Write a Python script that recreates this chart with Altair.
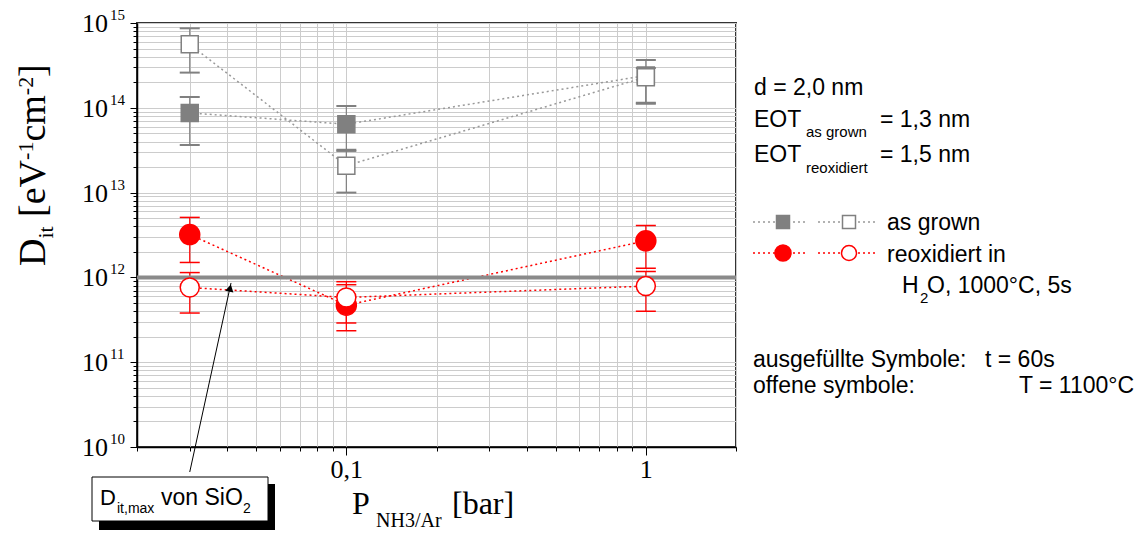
import altair as alt
import pandas as pd

# ---------------- data ----------------
pressure = [0.03, 0.1, 1.0]          # P_NH3/Ar [bar]

asgrown_t60 = [8.7e13, 6.4e13, 2.4e14]
asgrown_t60_lo = [3.64e13, 3.2e13, 1.15e14]
asgrown_t60_hi = [1.34e14, 1.05e14, 3.66e14]

asgrown_T1100 = [5.6e14, 2.08e13, 2.3e14]
asgrown_T1100_lo = [2.6e14, 1.0e13, 1.12e14]
asgrown_T1100_hi = [8.66e14, 3.1e13, 2.95e14]

reox_t60 = [3.2e12, 4.7e11, 2.7e12]
reox_t60_lo = [1.5e12, 2.35e11, 1.28e12]
reox_t60_hi = [5.1e12, 8.2e11, 4.1e12]

reox_T1100 = [7.6e11, 5.8e11, 7.9e11]
reox_T1100_lo = [3.8e11, 2.9e11, 4.0e11]
reox_T1100_hi = [1.14e12, 8.9e11, 1.17e12]

dit_max_sio2 = [1e12]

x_domain = [0.02, 2]
y_domain = [1e10, 1e15]
x_ticks = [0.02, 0.03, 0.04, 0.05, 0.06, 0.07, 0.08, 0.09,
           0.1, 0.2, 0.3, 0.4, 0.5, 0.6, 0.7, 0.8, 0.9, 1, 2]
y_exponents = [10, 11, 12, 13, 14, 15]
y_ticks = [k * 10.0 ** n for n in y_exponents[:-1] for k in range(1, 10)] + [1e15]

# annotation arrow (pressure, Dit) from the box to the SiO2 line
arrow_p = [0.03, 0.0412]
arrow_d = [5.07e9, 8.6e11]
arrowhead_p = [0.0409]
arrowhead_d = [7.5e11]

# ---------------- styling ----------------
SERIF = "Liberation Serif"
SANS = "Liberation Sans"
GRAY = "#808080"
RED = "#ff0000"

xs = alt.Scale(type="log", domain=x_domain, nice=False)
ys = alt.Scale(type="log", domain=y_domain, nice=False)

x_major = "datum.value == 0.1 || datum.value == 1"
y_major = "abs(log(datum.value)/LN10 - round(log(datum.value)/LN10)) < 1e-6"

xaxis = alt.Axis(values=x_ticks, grid=True, gridColor="#cccccc", gridWidth=1,
                 domainColor="black", domainWidth=1.5, tickColor="black", tickWidth=1,
                 tickSize={"condition": {"test": x_major, "value": 8}, "value": 4},
                 labelExpr="datum.value == 0.1 ? '0,1' : (datum.value == 1 ? '1' : '')",
                 labelFont=SERIF, labelFontSize=26, labelColor="black", labelPadding=1,
                 labelOverlap=False, labelFlush=False, labelBound=False, title=None)
yaxis = alt.Axis(values=y_ticks, grid=True, gridColor="#cccccc", gridWidth=1,
                 domainColor="black", domainWidth=1.5, tickColor="black", tickWidth=1,
                 tickSize={"condition": {"test": y_major, "value": 7}, "value": 4},
                 labels=False, title=None)


def X(f):
    return alt.X(f, type="quantitative", scale=xs, axis=xaxis)


def Y(f):
    return alt.Y(f, type="quantitative", scale=ys, axis=yaxis)


def sdf(ys_, lo, hi):
    return pd.DataFrame({"p": pressure, "d": ys_, "lo": lo, "hi": hi, "o": [0, 1, 2]})


ag_f = sdf(asgrown_t60, asgrown_t60_lo, asgrown_t60_hi)
ag_o = sdf(asgrown_T1100, asgrown_T1100_lo, asgrown_T1100_hi)
rx_f = sdf(reox_t60, reox_t60_lo, reox_t60_hi)
rx_o = sdf(reox_T1100, reox_T1100_lo, reox_T1100_hi)

one = pd.DataFrame({"k": [0]})


def dotted(df, color):
    return alt.Chart(df).mark_line(color=color, strokeWidth=1.5, strokeDash=[2, 3]).encode(
        x=X("p"), y=Y("d"), order="o:Q")


def errbar(df, color, thick):
    rule = alt.Chart(df).mark_rule(color=color, strokeWidth=1.2).encode(
        x=X("p"), y=Y("lo"), y2=alt.Y2("hi"))
    caps_df = pd.DataFrame({"p": list(df["p"]) * 2, "v": list(df["lo"]) + list(df["hi"])})
    caps = alt.Chart(caps_df).mark_tick(orient="horizontal", size=20, thickness=thick,
                                        color=color, opacity=1).encode(x=X("p"), y=Y("v"))
    return [rule, caps]


def points(df, shape, size, fill, stroke):
    return alt.Chart(df).mark_point(shape=shape, size=size, filled=True, fill=fill,
                                    stroke=stroke, strokeWidth=1.5, opacity=1).encode(
        x=X("p"), y=Y("d"))


def txt(s, x, y, size, font=SANS, angle=0, align="left", baseline="alphabetic"):
    return alt.Chart(one).mark_text(text=s, font=font, fontSize=size, angle=angle,
                                    align=align, baseline=baseline, color="black").encode(
        x=alt.value(x), y=alt.value(y))


def legend_sym(x, y, shape, size, fill, stroke):
    return alt.Chart(one).mark_point(shape=shape, size=size, filled=True, fill=fill,
                                     stroke=stroke, strokeWidth=1.5, opacity=1).encode(
        x=alt.value(x), y=alt.value(y))


def legend_line(x1, x2, y, color):
    return alt.Chart(one).mark_rule(color=color, strokeWidth=1.5, strokeDash=[2, 3]).encode(
        x=alt.value(x1), x2=alt.value(x2), y=alt.value(y))


layers = []
layers += [dotted(pd.concat([ag_f.assign(s="f"), ag_o.assign(s="o")]).reset_index(drop=True), "#999999")
           .encode(detail="s:N"),
           dotted(pd.concat([rx_f.assign(s="f"), rx_o.assign(s="o")]).reset_index(drop=True), RED)
           .encode(detail="s:N")]
layers += errbar(ag_f, GRAY, 2) + errbar(ag_o, GRAY, 2) + errbar(rx_f, RED, 1.5) + errbar(rx_o, RED, 1.5)

# SiO2 reference level
layers.append(alt.Chart(pd.DataFrame({"d": dit_max_sio2})).mark_rule(color="#8a8a8a", strokeWidth=4)
              .encode(y=Y("d")))

layers += [points(ag_f, "square", 289, GRAY, GRAY),
           points(ag_o, "square", 289, "white", GRAY),
           points(rx_f, "circle", 400, RED, RED),
           points(rx_o, "circle", 361, "white", RED)]

# y tick labels 10^n
ylab = pd.DataFrame({"v": [10.0 ** n for n in y_exponents], "e": [str(n) for n in y_exponents]})
layers.append(alt.Chart(ylab).mark_text(text="10", font=SERIF, fontSize=26, align="right",
                                        baseline="middle", dy=1, color="black")
              .encode(y=Y("v"), x=alt.value(-29)))
layers.append(alt.Chart(ylab).mark_text(font=SERIF, fontSize=15, align="left",
                                        baseline="middle", dy=-8, color="black")
              .encode(y=Y("v"), x=alt.value(-27), text="e:N"))

# arrow + box annotation
layers.append(alt.Chart(pd.DataFrame({"p": arrow_p, "d": arrow_d})).mark_line(color="black", strokeWidth=1)
              .encode(x=X("p"), y=Y("d")))
layers.append(alt.Chart(pd.DataFrame({"p": arrowhead_p, "d": arrowhead_d}))
              .mark_point(shape="triangle-up", size=70, filled=True, color="black", opacity=1, angle=12.5)
              .encode(x=X("p"), y=Y("d")))
layers.append(alt.Chart(one).mark_rect(color="black").encode(
    x=alt.value(-38), x2=alt.value(138), y=alt.value(461), y2=alt.value(507)))
layers.append(alt.Chart(one).mark_rect(fill="white", stroke="black", strokeWidth=1).encode(
    x=alt.value(-45), x2=alt.value(131), y=alt.value(454), y2=alt.value(498)))
layers += [txt("D", -37, 482, 22), txt("it,max", -20, 490, 14),
           txt("von SiO", 24, 482, 23), txt("2", 106, 490, 14)]

# axis titles
layers += [txt("P", 215, 491, 32, SERIF), txt("NH3/Ar", 239, 504, 20, SERIF),
           txt("[bar]", 315, 491, 32, SERIF)]
layers += [txt("D", -92, 243, 38, SERIF, 270), txt("it", -84, 215.6, 22, SERIF, 270),
           txt("[eV", -92, 193.9, 38, SERIF, 270), txt("-1", -104, 136.9, 22, SERIF, 270),
           txt("cm", -92, 118.6, 38, SERIF, 270), txt("-2", -104, 72.2, 22, SERIF, 270),
           txt("]", -92, 53.9, 38, SERIF, 270)]

# right-hand text block
layers += [txt("d = 2,0 nm", 617, 72, 23),
           txt("EOT", 617, 104, 23), txt("as grown", 669, 114, 15), txt("= 1,3 nm", 743, 104, 23),
           txt("EOT", 617, 139, 23), txt("reoxidiert", 669, 150, 15), txt("= 1,5 nm", 743, 139, 23)]
layers += [legend_line(616, 671, 199, "#999999"), legend_line(681, 741, 199, "#999999"),
           legend_sym(646, 199, "square", 169, GRAY, GRAY),
           legend_sym(712, 199, "square", 169, "white", GRAY),
           txt("as grown", 750, 207, 23),
           legend_line(616, 671, 230, RED), legend_line(681, 741, 230, RED),
           legend_sym(646, 230, "circle", 256, RED, RED),
           legend_sym(712, 230, "circle", 225, "white", RED),
           txt("reoxidiert in", 750, 239, 23),
           txt("H", 765, 270, 23), txt("2", 783, 280, 15), txt("O, 1000°C, 5s", 790, 270, 23),
           txt("ausgefüllte Symbole:", 616, 344, 23), txt("t = 60s", 848, 344, 23),
           txt("offene symbole:", 616, 370, 23), txt("T = 1100°C", 882, 370, 23)]

chart = alt.layer(*layers).properties(
    width=599, height=424,
    autosize=alt.AutoSizeParams(type="none"),
    padding={"left": 129, "top": 15, "right": 401, "bottom": 85},
).configure_view(stroke="#333333", strokeWidth=2)

chart.save("out.html", embed_options={"renderer": "svg", "actions": False})
